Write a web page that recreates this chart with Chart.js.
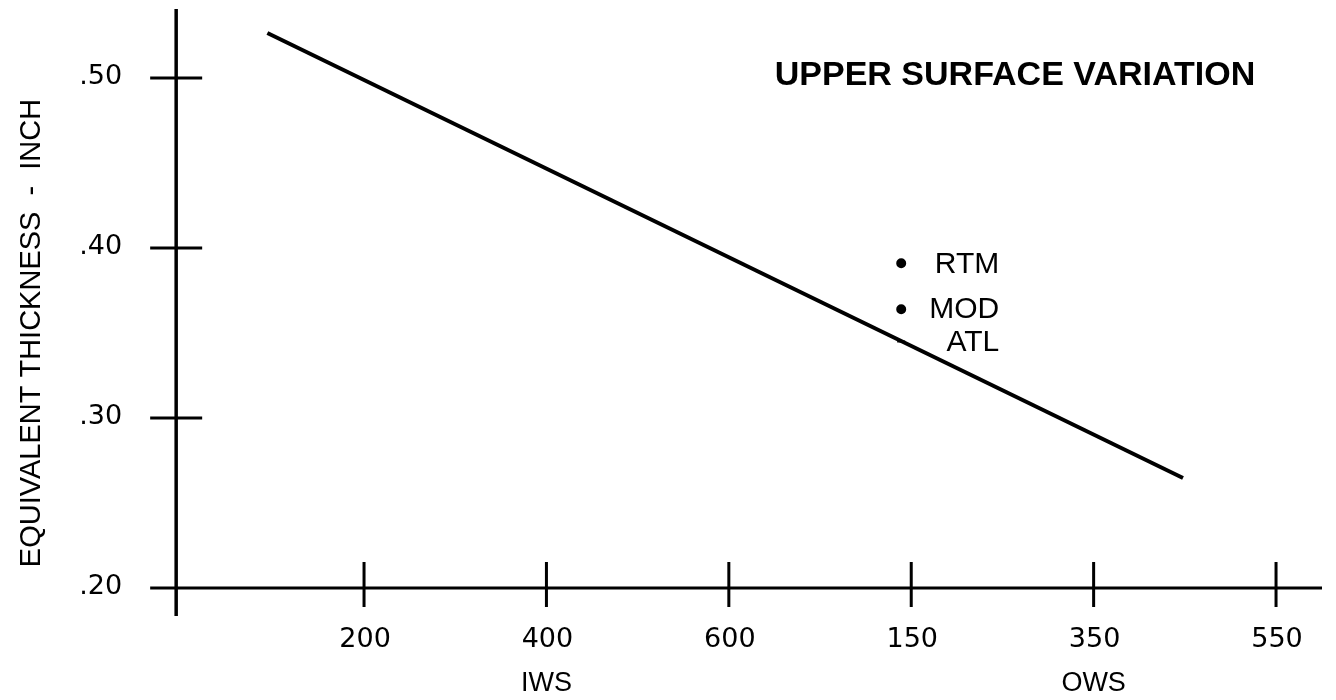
<!DOCTYPE html>
<html>
<head>
<meta charset="utf-8">
<title>Upper surface variation</title>
<script src="https://cdn.jsdelivr.net/npm/chart.js@4.4.1/dist/chart.umd.min.js"></script>
<style>
  html, body { margin: 0; padding: 0; background: #fff; }
  #wrap { width: 1336px; height: 700px; }
</style>
</head>
<body>
<div id="wrap"><canvas id="chart" width="1336" height="700"></canvas></div>
<script>
// x runs along the span: IWS stations first, then OWS (OWS 150 sits where IWS 800 would be)
const xTickValues = [200, 400, 600, 800, 1000, 1200];
const xTickLabels = ['200', '400', '600', '150', '350', '550'];
const xGroupLabels = ['IWS', 'OWS'];
const xGroupAt = [400, 1000];

const yTickValues = [0.20, 0.30, 0.40, 0.50];
const yTickLabels = ['.20', '.30', '.40', '.50'];

const trendX = [94, 1098];
const trendY = [0.5265, 0.2647];

// single points
const pointNames = ['RTM', 'MOD', 'ATL'];
const pointX = [789, 789, 789];
const pointY = [0.391, 0.364, 0.345];
const pointStyles = ['circle', 'circle', 'line'];

const chartTitle = 'UPPER SURFACE VARIATION';
const yTitle = 'EQUIVALENT THICKNESS  -  INCH';

const INK = '#000';

// axes drawn like the paper original: crossing lines with ticks through them
const paperAxes = {
  id: 'paperAxes',
  beforeDatasetsDraw(chart) {
    const { ctx, chartArea: a, scales: { x, y } } = chart;
    const x0 = x.getPixelForValue(-6);
    const y0 = y.getPixelForValue(0.20);

    ctx.save();
    ctx.strokeStyle = INK;
    ctx.lineCap = 'butt';

    ctx.lineWidth = 3.5;
    ctx.beginPath();
    ctx.moveTo(x0, a.top);
    ctx.lineTo(x0, a.bottom);
    ctx.stroke();

    ctx.lineWidth = 3;
    ctx.beginPath();
    ctx.moveTo(a.left, y0);
    ctx.lineTo(a.right, y0);
    yTickValues.forEach(v => {
      const py = y.getPixelForValue(v);
      ctx.moveTo(x0 - 26, py);
      ctx.lineTo(x0 + 26, py);
    });
    xTickValues.forEach(v => {
      const px = x.getPixelForValue(v);
      ctx.moveTo(px, y0 - 26);
      ctx.lineTo(px, y0 + 19);
    });
    ctx.stroke();

    ctx.fillStyle = INK;
    ctx.font = '27px "DejaVu Sans"';
    ctx.textBaseline = 'middle';

    ctx.textAlign = 'right';
    yTickValues.forEach((v, i) => {
      ctx.fillText(yTickLabels[i], x0 - 54, y.getPixelForValue(v) - 1);
    });

    ctx.textAlign = 'center';
    xTickValues.forEach((v, i) => {
      ctx.fillText(xTickLabels[i], x.getPixelForValue(v) + 1, y0 + 52);
    });

    ctx.font = '27px "Liberation Sans"';
    xGroupAt.forEach((v, i) => {
      ctx.fillText(xGroupLabels[i], x.getPixelForValue(v), y0 + 96);
    });

    // rotated y title
    ctx.save();
    ctx.translate(32, 333);
    ctx.rotate(-Math.PI / 2);
    ctx.font = '29px "Liberation Sans"';
    ctx.fillText(yTitle, 0, 0);
    ctx.restore();

    ctx.font = 'bold 34px "Liberation Sans"';
    ctx.fillText(chartTitle, 1015, 76);

    ctx.restore();
  },
  afterDatasetsDraw(chart) {
    const { ctx, scales: { x, y } } = chart;
    ctx.save();
    ctx.fillStyle = INK;
    ctx.font = '30px "Liberation Sans"';
    ctx.textAlign = 'right';
    ctx.textBaseline = 'middle';
    pointNames.forEach((name, i) => {
      ctx.fillText(name, x.getPixelForValue(pointX[i]) + 98, y.getPixelForValue(pointY[i]) + 1);
    });
    ctx.restore();
  }
};

new Chart(document.getElementById('chart'), {
  type: 'scatter',
  data: {
    datasets: [
      {
        label: 'trend',
        data: trendX.map((v, i) => ({ x: v, y: trendY[i] })),
        showLine: true,
        borderColor: INK,
        borderWidth: 4,
        pointRadius: 0,
        order: 1
      },
      {
        label: 'points',
        data: pointX.map((v, i) => ({ x: v, y: pointY[i] })),
        pointStyle: pointStyles,
        pointRadius: 4,
        backgroundColor: INK,
        borderColor: INK,
        borderWidth: 2,
        order: 2
      }
    ]
  },
  options: {
    responsive: false,
    animation: false,
    events: [],
    layout: { padding: { left: 153, right: 14, top: 9, bottom: 84 } },
    scales: {
      x: { type: 'linear', min: -31.4, max: 1250.4, display: false },
      y: { type: 'linear', min: 0.18353, max: 0.5406, display: false }
    },
    plugins: {
      legend: { display: false },
      title: { display: false },
      tooltip: { enabled: false }
    }
  },
  plugins: [paperAxes]
});
</script>
</body>
</html>
